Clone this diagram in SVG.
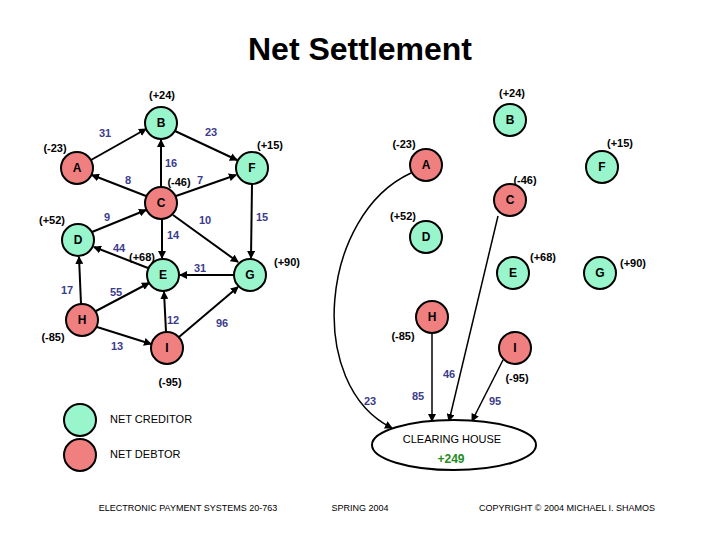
<svg xmlns="http://www.w3.org/2000/svg" width="720" height="540" viewBox="0 0 720 540">
<style>
text{font-family:"Liberation Sans",Arial,sans-serif}
.cr{fill:#99f5cc;stroke:#000;stroke-width:2}
.db{fill:#f08080;stroke:#000;stroke-width:2}
.nl{font-size:12px;font-weight:bold;text-anchor:middle}
.bal{font-size:11px;font-weight:bold;text-anchor:middle}
.el{font-size:11px;font-weight:bold;fill:#3c3c8c;text-anchor:middle}
.e{stroke:#000;stroke-width:2;fill:none;marker-end:url(#ah)}
.e2{stroke:#000;stroke-width:1.5;fill:none;marker-end:url(#ah)}
.ft{font-size:9px}
</style>
<defs><marker id="ah" markerWidth="8" markerHeight="8" refX="7" refY="4" orient="auto" markerUnits="userSpaceOnUse"><path d="M0,0 L8,4 L0,8 Z" fill="#000"/></marker></defs>
<rect width="720" height="540" fill="#fff"/>
<text x="360" y="60" font-size="32" font-weight="bold" text-anchor="middle">Net Settlement</text>
<g id="connectors">
<line class="e" x1="91" y1="160" x2="146" y2="129"/>
<line class="e" x1="175" y1="131" x2="237" y2="160"/>
<line class="e" x1="161" y1="187" x2="161" y2="140"/>
<line class="e" x1="146" y1="196" x2="92" y2="175"/>
<line class="e" x1="176" y1="196" x2="236" y2="175"/>
<line class="e" x1="92" y1="232" x2="146" y2="210"/>
<line class="e" x1="162" y1="219" x2="162" y2="258"/>
<line class="e" x1="173" y1="215" x2="238" y2="262"/>
<line class="e" x1="252" y1="184" x2="251" y2="258"/>
<line class="e" x1="148" y1="268" x2="94" y2="247"/>
<line class="e" x1="234" y1="275" x2="180" y2="275"/>
<line class="e" x1="81" y1="304" x2="79" y2="257"/>
<line class="e" x1="96" y1="311" x2="149" y2="283"/>
<line class="e" x1="166" y1="332" x2="164" y2="292"/>
<line class="e" x1="97" y1="327" x2="151" y2="344"/>
<line class="e" x1="179" y1="337" x2="238" y2="287"/>
<path class="e2" d="M411,173 C320,215 305,385 392,428"/>
<line class="e2" x1="432" y1="333" x2="432" y2="421"/>
<line class="e2" x1="498" y1="216" x2="449" y2="421"/>
<line class="e2" x1="503" y1="360" x2="472" y2="421"/>
</g>
<g id="edge-labels">
<text class="el" x="105" y="137">31</text><text class="el" x="211" y="136">23</text>
<text class="el" x="171" y="167">16</text><text class="el" x="128" y="184">8</text>
<text class="el" x="200" y="184">7</text><text class="el" x="107" y="221">9</text>
<text class="el" x="205" y="224">10</text><text class="el" x="262" y="221">15</text>
<text class="el" x="173" y="239">14</text><text class="el" x="119" y="252">44</text>
<text class="el" x="200" y="272">31</text><text class="el" x="67" y="294">17</text>
<text class="el" x="116" y="296">55</text><text class="el" x="173" y="324">12</text>
<text class="el" x="222" y="327">96</text><text class="el" x="117" y="350">13</text>
<text class="el" x="370" y="405">23</text><text class="el" x="418" y="400">85</text>
<text class="el" x="449" y="378">46</text><text class="el" x="495" y="405">95</text>
</g>
<g id="left-nodes">
<g id="L-B"><circle class="cr" cx="161" cy="123" r="16"/><text class="nl" x="161" y="127">B</text><text class="bal" x="162" y="99">(+24)</text></g>
<g id="L-A"><circle class="db" cx="77" cy="168" r="16"/><text class="nl" x="77" y="172">A</text><text class="bal" x="55" y="152">(-23)</text></g>
<g id="L-C"><circle class="db" cx="161" cy="203" r="16"/><text class="nl" x="161" y="207">C</text><text class="bal" x="179" y="186">(-46)</text></g>
<g id="L-F"><circle class="cr" cx="252" cy="168" r="16"/><text class="nl" x="252" y="172">F</text><text class="bal" x="270" y="149">(+15)</text></g>
<g id="L-D"><circle class="cr" cx="78" cy="240" r="16"/><text class="nl" x="78" y="244">D</text><text class="bal" x="52" y="224">(+52)</text></g>
<g id="L-E"><circle class="cr" cx="163" cy="275" r="16"/><text class="nl" x="163" y="279">E</text><text class="bal" x="142" y="261">(+68)</text></g>
<g id="L-G"><circle class="cr" cx="250" cy="275" r="16"/><text class="nl" x="250" y="279">G</text><text class="bal" x="287" y="266">(+90)</text></g>
<g id="L-H"><circle class="db" cx="82" cy="320" r="16"/><text class="nl" x="82" y="324">H</text><text class="bal" x="53" y="341">(-85)</text></g>
<g id="L-I"><circle class="db" cx="167" cy="348" r="16"/><text class="nl" x="167" y="352">I</text><text class="bal" x="170" y="386">(-95)</text></g>
</g>
<g id="right-nodes">
<g id="R-B"><circle class="cr" cx="510" cy="120" r="16"/><text class="nl" x="510" y="124">B</text><text class="bal" x="512" y="97">(+24)</text></g>
<g id="R-A"><circle class="db" cx="426" cy="165" r="16"/><text class="nl" x="426" y="169">A</text><text class="bal" x="404" y="148">(-23)</text></g>
<g id="R-F"><circle class="cr" cx="602" cy="167" r="16"/><text class="nl" x="602" y="171">F</text><text class="bal" x="620" y="147">(+15)</text></g>
<g id="R-C"><circle class="db" cx="510" cy="200" r="16"/><text class="nl" x="510" y="204">C</text><text class="bal" x="525" y="184">(-46)</text></g>
<g id="R-D"><circle class="cr" cx="426" cy="237" r="16"/><text class="nl" x="426" y="241">D</text><text class="bal" x="403" y="220">(+52)</text></g>
<g id="R-E"><circle class="cr" cx="513" cy="273" r="16"/><text class="nl" x="513" y="277">E</text><text class="bal" x="543" y="261">(+68)</text></g>
<g id="R-G"><circle class="cr" cx="600" cy="273" r="16"/><text class="nl" x="600" y="277">G</text><text class="bal" x="633" y="267">(+90)</text></g>
<g id="R-H"><circle class="db" cx="432" cy="317" r="16"/><text class="nl" x="432" y="321">H</text><text class="bal" x="403" y="340">(-85)</text></g>
<g id="R-I"><circle class="db" cx="515" cy="348" r="16"/><text class="nl" x="515" y="352">I</text><text class="bal" x="517" y="382">(-95)</text></g>
<g id="clearing-house"><ellipse cx="454" cy="445" rx="82" ry="25" fill="#fff" stroke="#000" stroke-width="2"/><text x="452" y="443" font-size="11" text-anchor="middle">CLEARING HOUSE</text><text x="451" y="463" font-size="12" font-weight="bold" fill="#1e8c1e" text-anchor="middle">+249</text></g>
</g>
<g id="legend">
<circle class="cr" cx="80" cy="420" r="16"/><text x="110" y="423" font-size="11">NET CREDITOR</text>
<circle class="db" cx="80" cy="455" r="16"/><text x="110" y="458" font-size="11">NET DEBTOR</text>
</g>
<g id="footer">
<text class="ft" x="188" y="511" text-anchor="middle">ELECTRONIC PAYMENT SYSTEMS 20-763</text>
<text class="ft" x="360" y="511" text-anchor="middle">SPRING 2004</text>
<text class="ft" x="567" y="511" text-anchor="middle">COPYRIGHT © 2004 MICHAEL I. SHAMOS</text>
</g>
</svg>
